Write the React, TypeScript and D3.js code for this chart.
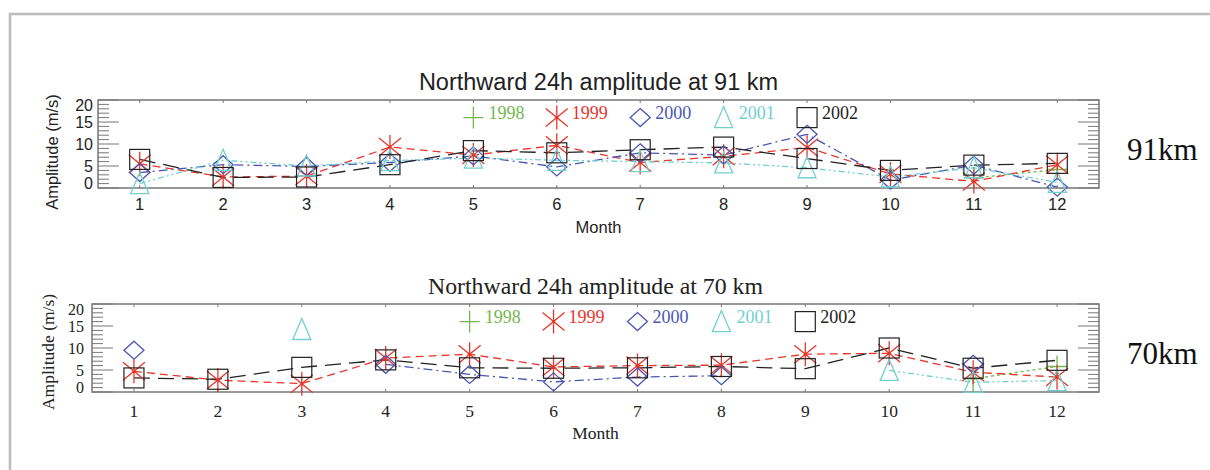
import * as d3 from 'd3';
import React from 'react';

// month axis
const months = [1, 2, 3, 4, 5, 6, 7, 8, 9, 10, 11, 12];
const monthLabels = ['1', '2', '3', '4', '5', '6', '7', '8', '9', '10', '11', '12'];
const ampTicks = [0, 5, 10, 15, 20];
const years = ['1998', '1999', '2000', '2001', '2002'];

// Northward 24h amplitude at 91 km (m/s), null = no data
const n91_1998 = [null, null, null, null, null, null, null, null, null, null, 2.3, 4.2];
const n91_1999 = [5.5, 2.5, 2.7, 9.3, 7.5, 9.7, 5.8, 7.2, 9.2, 3.2, 1.5, 5.3];
const n91_2000 = [3.5, 5.3, 4.9, 5.8, 7.3, 4.8, 8.0, 7.5, 12.2, 1.8, 5.2, 0.2];
const n91_2001 = [1.0, 6.3, 5.0, 6.2, 6.8, 6.3, 6.0, 5.7, 4.6, 2.5, 4.6, 1.3];
const n91_2002 = [6.5, 2.4, 2.5, 5.3, 8.5, 8.0, 8.7, 9.3, 6.7, 4.0, 5.2, 5.6];

// Northward 24h amplitude at 70 km (m/s)
const n70_1998 = [null, null, null, null, null, null, null, null, null, null, 3.0, 5.8];
const n70_1999 = [4.7, 2.7, 1.9, 7.7, 8.6, 5.7, 6.0, 6.1, 8.6, 8.8, 4.5, 3.4];
const n70_2000 = [9.5, null, null, 6.3, 4.0, 2.3, 3.4, 3.7, null, null, 6.3, null];
const n70_2001 = [null, null, 14.2, null, null, null, null, null, null, 4.9, 2.2, 2.6];
const n70_2002 = [3.2, 2.9, 5.6, 7.3, 5.5, 5.4, 5.5, 5.8, 5.3, 10.0, 5.4, 7.2];

const colors: Record<string, string> = {
  '1998': '#74b84e',
  '1999': '#e8362b',
  '2000': '#4a57b3',
  '2001': '#72cfd0',
  '2002': '#222222',
};
const dashes: Record<string, string> = {
  '1998': '3,3',
  '1999': '8,5',
  '2000': '9,4,2,4',
  '2001': '6,3,2,3,2,3',
  '2002': '16,8',
};

const SANS = '"Liberation Sans", Arial, Helvetica, sans-serif';
const SERIF = '"Liberation Serif", "Times New Roman", Times, serif';

const Marker = ({ year, x, y }: any) => {
  const c = colors[year];
  const common = { fill: 'none', stroke: c, strokeWidth: 1.3 };
  if (year === '1998') {
    return <path d={`M${x - 10},${y}H${x + 10}M${x},${y - 11}V${y + 11}`} {...common} />;
  }
  if (year === '1999') {
    return (
      <g>
        <path
          d={`M${x},${y - 12}V${y + 12}M${x - 11},${y - 9}L${x + 11},${y + 9}M${x - 11},${y + 9}L${x + 11},${y - 9}`}
          {...common}
        />
        <circle cx={x} cy={y} r={1.6} fill={c} />
      </g>
    );
  }
  if (year === '2000') {
    return <path d={`M${x},${y - 9}L${x + 10},${y}L${x},${y + 9}L${x - 10},${y}Z`} {...common} />;
  }
  if (year === '2001') {
    return <path d={`M${x},${y - 11}L${x + 9},${y + 10}L${x - 9},${y + 10}Z`} {...common} />;
  }
  return <rect x={x - 10} y={y - 10} width={20} height={20} {...common} strokeWidth={1.2} />;
};

const Panel = ({ cfg }: any) => {
  const x = d3.scaleLinear().domain([0.5, 12.5]).range([cfg.left, cfg.right]);
  const y = d3.scaleLinear().domain([0, 20]).range([cfg.bottom, cfg.top]);
  const line = d3
    .line<number | null>()
    .defined((d) => d != null)
    .x((_, i) => x(months[i]))
    .y((d) => y(d as number));
  const minor = d3.range(0, 21);
  const font = cfg.font;
  const axisColor = '#777';

  return (
    <g>
      <text x={(cfg.left + cfg.right) / 2} y={cfg.titleY} textAnchor="middle" fontFamily={font} fontSize={cfg.titleSize} fill="#222">
        {cfg.title}
      </text>

      {/* left / right ticks */}
      {minor.map((v) => {
        const major = v % 5 === 0;
        const len = major ? 21 : 11;
        return (
          <g key={'t' + v} stroke={axisColor} strokeWidth={1}>
            <line x1={cfg.left} x2={cfg.left + len} y1={y(v)} y2={y(v)} />
            <line x1={cfg.right} x2={cfg.right - len} y1={y(v)} y2={y(v)} />
          </g>
        );
      })}
      {months.map((m) => (
        <g key={'m' + m} stroke={axisColor} strokeWidth={1}>
          <line x1={x(m)} x2={x(m)} y1={cfg.top} y2={cfg.top + 3} />
          <line x1={x(m)} x2={x(m)} y1={cfg.bottom} y2={cfg.bottom - 3} />
        </g>
      ))}
      <rect
        x={cfg.left}
        y={cfg.top}
        width={cfg.right - cfg.left}
        height={cfg.bottom - cfg.top}
        fill="none"
        stroke={axisColor}
        strokeWidth={1.5}
      />

      {ampTicks.map((v) => (
        <text
          key={'yl' + v}
          x={cfg.left - cfg.yLabelGap}
          y={Math.min(Math.max(y(v), cfg.top + 5), cfg.bottom - 5)}
          textAnchor="end"
          dominantBaseline="central"
          fontFamily={font}
          fontSize={cfg.yTickSize}
          fill="#222"
        >
          {v}
        </text>
      ))}
      {months.map((m, i) => (
        <text key={'xl' + m} x={x(m)} y={cfg.tickY} textAnchor="middle" fontFamily={font} fontSize={cfg.tickSize} fill="#222">
          {monthLabels[i]}
        </text>
      ))}
      <text x={(cfg.left + cfg.right) / 2} y={cfg.monthY} textAnchor="middle" fontFamily={font} fontSize={cfg.tickSize} fill="#222">
        Month
      </text>
      <text
        transform={`translate(${cfg.yTitleX},${cfg.yTitleY}) rotate(-90)`}
        textAnchor="middle"
        dominantBaseline="central"
        fontFamily={font}
        fontSize={cfg.tickSize}
        fill="#222"
      >
        Amplitude (m/s)
      </text>

      {/* series lines */}
      {years.map((yr, k) => (
        <path
          key={'l' + yr}
          d={line(cfg.series[k]) || ''}
          fill="none"
          stroke={colors[yr]}
          strokeWidth={1.3}
          strokeDasharray={dashes[yr]}
        />
      ))}
      {/* markers */}
      {years.map((yr, k) =>
        cfg.series[k].map((v: number | null, i: number) =>
          v == null ? null : <Marker key={yr + '-' + i} year={yr} x={x(months[i])} y={y(v)} />
        )
      )}

      {/* legend: symbols placed on months 5..9 at 16 m/s */}
      {years.map((yr, k) => (
        <g key={'lg' + yr}>
          <Marker year={yr} x={x(months[4 + k])} y={y(16)} />
          <text
            x={x(months[4 + k]) + 15}
            y={y(16) + 1}
            fontFamily={SERIF}
            fontSize={18}
            fill={colors[yr]}
          >
            {yr}
          </text>
        </g>
      ))}

      <text x={1127} y={cfg.tagY} fontFamily={SERIF} fontSize={31} fill="#111">
        {cfg.tag}
      </text>
    </g>
  );
};

const panels = [
  {
    title: 'Northward 24h amplitude at 91 km',
    tag: '91km',
    font: SANS,
    titleSize: 23.5,
    tickSize: 16.5,
    yTickSize: 16,
    left: 98,
    right: 1099,
    top: 100,
    bottom: 188,
    titleY: 90,
    tickY: 210,
    monthY: 233,
    yLabelGap: 5,
    yTitleX: 52,
    yTitleY: 152,
    tagY: 160,
    series: [n91_1998, n91_1999, n91_2000, n91_2001, n91_2002],
  },
  {
    title: 'Northward 24h amplitude at 70 km',
    tag: '70km',
    font: SERIF,
    titleSize: 23.8,
    tickSize: 17.5,
    yTickSize: 16,
    left: 92,
    right: 1099,
    top: 304,
    bottom: 392,
    titleY: 294,
    tickY: 417,
    monthY: 439,
    yLabelGap: 8,
    yTitleX: 48,
    yTitleY: 352,
    tagY: 364,
    series: [n70_1998, n70_1999, n70_2000, n70_2001, n70_2002],
  },
];

export default function App() {
  return (
    <svg
      width={1210}
      height={470}
      style={{ position: 'absolute', left: 0, top: 0, display: 'block', background: '#fff' }}
    >
      <rect x={0} y={0} width={1210} height={470} fill="#fff" />
      <path d="M10,470V14H1210" fill="none" stroke="#bdbdbd" strokeWidth={2.5} />
      {panels.map((p) => (
        <Panel key={p.tag} cfg={p} />
      ))}
    </svg>
  );
}
